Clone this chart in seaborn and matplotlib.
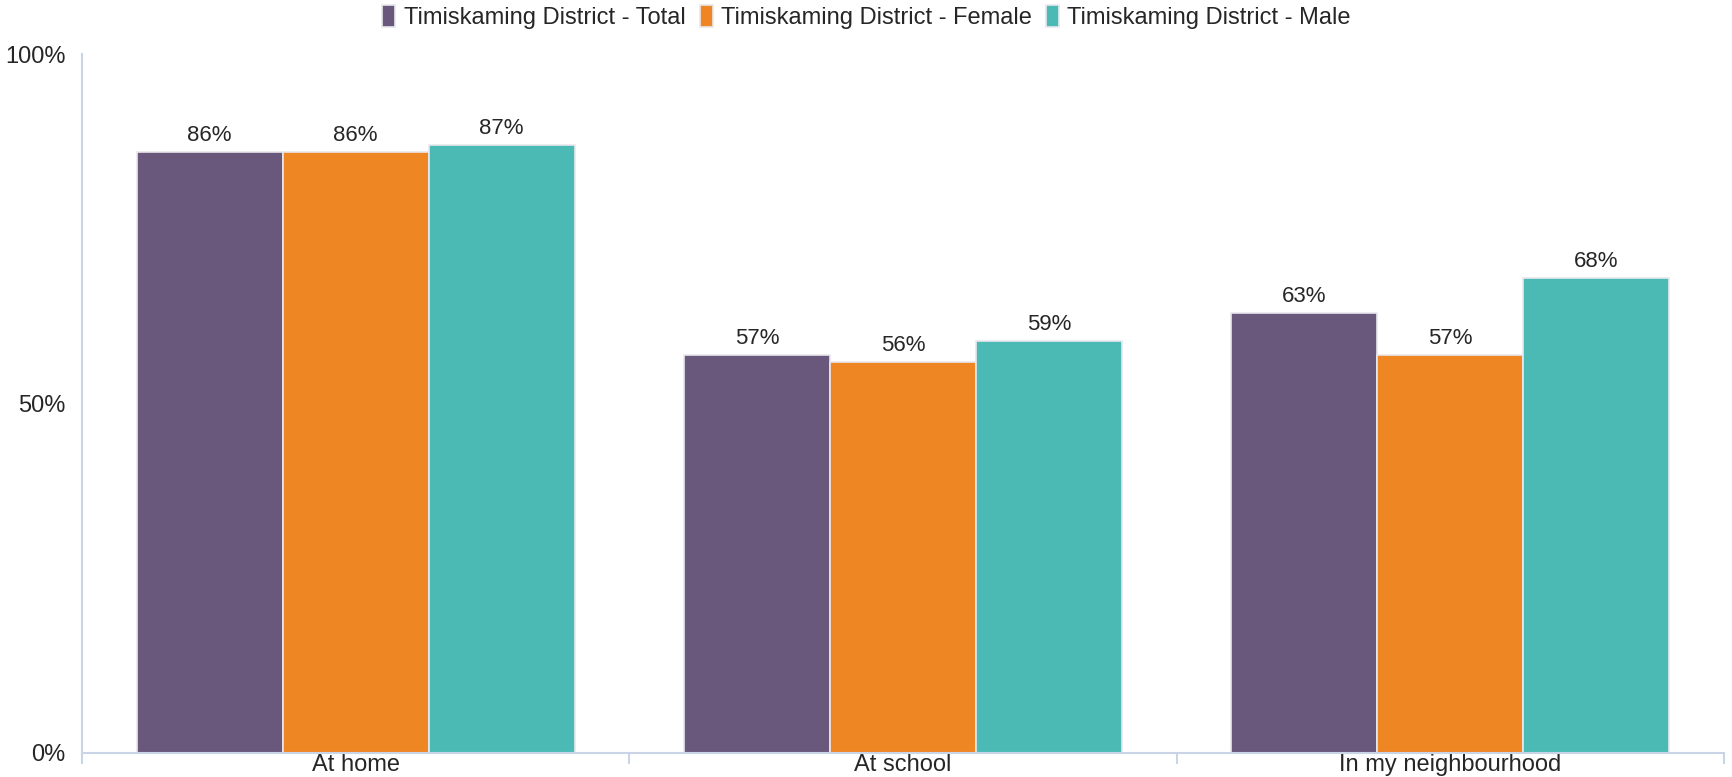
import matplotlib
matplotlib.use("Agg")
import matplotlib.pyplot as plt
from matplotlib.ticker import FixedLocator
import seaborn as sns
import pandas as pd

categories = ["At home", "At school", "In my neighbourhood"]
series_names = [
    "Timiskaming District - Total",
    "Timiskaming District - Female",
    "Timiskaming District - Male",
]
total_values = [86, 57, 63]
female_values = [86, 56, 57]
male_values = [87, 59, 68]
y_tick_values = [0, 50, 100]
y_tick_labels = ["0%", "50%", "100%"]

colors = ["#6A587C", "#EF8624", "#4BBAB5"]
axis_color = "#C9D5E6"
text_color = "#262626"

df = pd.DataFrame({
    "category": categories * 3,
    "series": [series_names[0]] * 3 + [series_names[1]] * 3 + [series_names[2]] * 3,
    "value": total_values + female_values + male_values,
})

sns.set_theme(style="white")
plt.rcParams["font.family"] = ["Liberation Sans", "DejaVu Sans"]

fig = plt.figure(figsize=(17.33, 7.77), dpi=100)
ax = fig.add_axes([0.0473, 0.031, 0.9475, 0.8995])

sns.barplot(
    data=df, x="category", y="value", hue="series",
    order=categories, hue_order=series_names,
    palette=colors, width=0.8, ax=ax,
    edgecolor="#E8E8EE", linewidth=1.2, saturation=1, errorbar=None,
)

for container in ax.containers:
    ax.bar_label(container, labels=[f"{v:.0f}%" for v in container.datavalues],
                 padding=4, fontsize=16, color=text_color)

ax.set_xlim(-0.5, len(categories) - 0.5)
ax.set_ylim(0, 100)
ax.set_yticks(y_tick_values)
ax.set_yticklabels(y_tick_labels, fontsize=17, color=text_color)
ax.tick_params(axis="y", length=0, pad=12)
ax.tick_params(axis="x", which="major", bottom=False, length=0, pad=1,
               labelsize=17, labelcolor=text_color)
ax.xaxis.set_minor_locator(FixedLocator([i - 0.5 for i in range(len(categories) + 1)]))
ax.tick_params(axis="x", which="minor", bottom=True, length=8, width=1.5,
               color=axis_color, direction="out")
ax.set_xlabel("")
ax.set_ylabel("")

for side in ["top", "right"]:
    ax.spines[side].set_visible(False)
for side in ["left", "bottom"]:
    ax.spines[side].set_color(axis_color)
    ax.spines[side].set_linewidth(1.5)

handles, labels = ax.get_legend_handles_labels()
ax.legend(
    handles, labels, loc="upper center", bbox_to_anchor=(0.5, 1.0),
    bbox_transform=fig.transFigure, ncol=3, frameon=False,
    fontsize=17, handlelength=0.55, handleheight=1.1, handletextpad=0.35,
    columnspacing=0.6, borderaxespad=0.0, borderpad=0.2, labelcolor=text_color,
)

fig.savefig("out.png", dpi=100)
